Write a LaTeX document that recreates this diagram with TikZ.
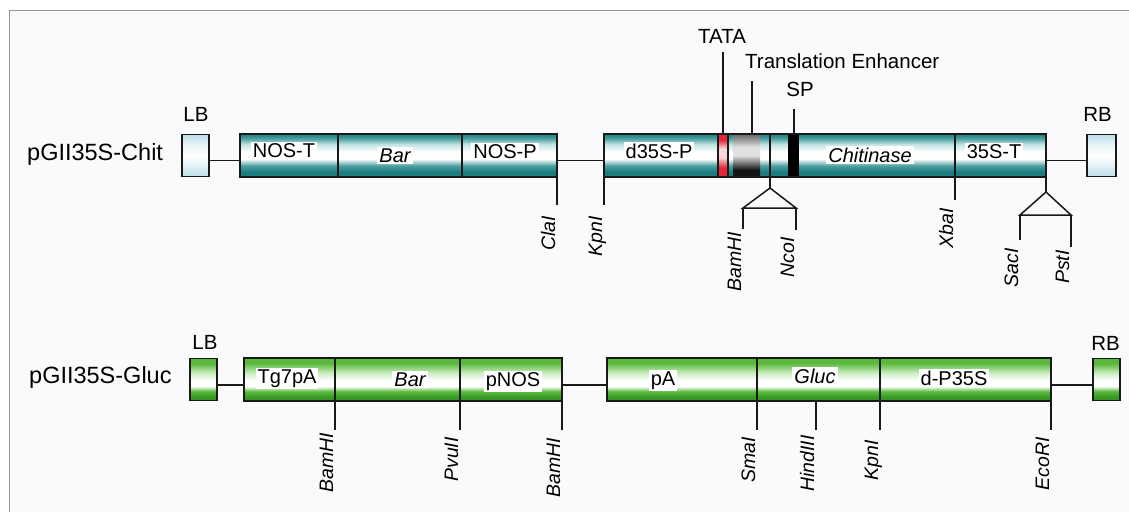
\documentclass[tikz,border=0pt]{standalone}
\usepackage{fontspec}
\setmainfont{Liberation Sans}
\definecolor{tealD}{RGB}{28,124,127}
\definecolor{tealM}{RGB}{75,158,160}
\definecolor{tealL}{RGB}{195,228,228}
\definecolor{grnD}{RGB}{55,150,35}
\definecolor{grnM}{RGB}{90,185,60}
\definecolor{grnL}{RGB}{200,236,190}
\definecolor{lbD}{RGB}{188,222,232}
\definecolor{lbL}{RGB}{232,244,248}
\definecolor{redD}{RGB}{226,40,55}
\definecolor{redL}{RGB}{250,215,218}
\definecolor{gryT}{RGB}{105,105,105}
\definecolor{gryL}{RGB}{225,225,225}
\definecolor{gryB}{RGB}{20,20,20}
\definecolor{bgc}{RGB}{250,250,252}
\definecolor{framec}{RGB}{150,150,150}
\definecolor{ink}{RGB}{25,25,25}
\pgfdeclareverticalshading{tealsh}{100bp}{color(0bp)=(tealD); color(25bp)=(tealD); color(31bp)=(tealD); color(38bp)=(tealM); color(46bp)=(white); color(54bp)=(white); color(63bp)=(tealL); color(70bp)=(tealM); color(75bp)=(tealD); color(100bp)=(tealD)}
\pgfdeclareverticalshading{grnsh}{100bp}{color(0bp)=(grnD); color(25bp)=(grnD); color(29bp)=(grnD); color(36bp)=(grnM); color(42bp)=(white); color(49bp)=(white); color(58bp)=(grnL); color(69bp)=(grnM); color(75bp)=(grnM); color(100bp)=(grnM)}
\pgfdeclareverticalshading{lbsh}{100bp}{color(0bp)=(lbD); color(25bp)=(lbD); color(40bp)=(lbL); color(50bp)=(white); color(62bp)=(lbL); color(75bp)=(lbD); color(100bp)=(lbD)}
\pgfdeclareverticalshading{redsh}{100bp}{color(0bp)=(redD); color(25bp)=(redD); color(36bp)=(redD); color(48bp)=(redL); color(58bp)=(redL); color(68bp)=(redD); color(75bp)=(redD); color(100bp)=(redD)}
\pgfdeclareverticalshading{grysh}{100bp}{color(0bp)=(gryB); color(25bp)=(gryB); color(33bp)=(gryB); color(50bp)=(gryL); color(60bp)=(gryL); color(75bp)=(gryT); color(100bp)=(gryT)}
\tikzset{
  lin/.style={draw=ink, line width=1.5pt},
  boxbase/.style={rectangle, inner sep=0pt, outer sep=0pt},
  tealbox/.style={boxbase, draw=ink, line width=1.5pt, shade, shading=tealsh},
  grnbox/.style={boxbase, draw=ink, line width=1.5pt, shade, shading=grnsh},
  lbbox/.style={boxbase, draw=ink, line width=1.5pt, shade, shading=lbsh},
  inlab/.style={fill=white, inner xsep=2pt, inner ysep=1.5pt, anchor=base, font=\fontsize{20}{24}\selectfont},
  sitelab/.style={rotate=90, inner sep=0pt, anchor=base east, font=\fontsize{19.5}{23}\selectfont\itshape},
  namelab/.style={inner sep=0pt, anchor=base west, font=\fontsize{23.5}{28}\selectfont},
  toplab/.style={inner sep=0pt, anchor=base, font=\fontsize{20.5}{24}\selectfont},
}
% #1 name, #2 x, #3 y start, #4 y end, #5 text top, #6 text
\newcommand{\siteline}[6]{%
  \coordinate (#1s) at (#2,#3);
  \coordinate (#1e) at (#2,#4);
  \draw[lin] (#1s) -- (#1e);
  \node[sitelab] (#1) at (#2-2,#5) {#6};
}
\begin{document}
\begin{tikzpicture}[x=1pt,y=-1pt]
\useasboundingbox (0,0) rectangle (1129,512);
\fill[white] (0,0) rectangle (1129,512);
\fill[bgc] (9.5,10.5) rectangle (1129,512);
\draw[framec, line width=1.2pt] (9.5,512) -- (9.5,10.5) -- (1129,10.5);

% ================= Row 1 : pGII35S-Chit =================
\node[namelab] (name1) at (27,160) {pGII35S-Chit};
\node[lbbox, minimum width=27pt, minimum height=42pt] (lb1) at (195.5,155.5) {};
\node[toplab] (lb1t) at (196,121) {LB};
\node[tealbox, minimum width=317pt, minimum height=43pt] (c1) at (398.5,155.5) {};
\node[tealbox, draw=none, minimum width=442pt, minimum height=43pt] (c2) at (825,155.5) {};
\node[lbbox, minimum width=29pt, minimum height=42pt] (rb1) at (1101.5,155.5) {};
\node[toplab] (rb1t) at (1097.5,121) {RB};

\draw[lin] ([yshift=-5pt]lb1.east) -- ([yshift=-5pt]c1.west);
\draw[lin] ([yshift=-5pt]c1.east) -- ([yshift=-5pt]c2.west);
\draw[lin] ([yshift=-5pt]c2.east) -- ([yshift=-5pt]rb1.west);

% dividers in c1
\draw[lin] (338,134) -- (338,177);
\draw[lin] (462,134) -- (462,177);

% elements in c2
\node[boxbase, draw=ink, line width=1.2pt, shade, shading=redsh, minimum width=10pt, minimum height=43pt] (tata) at (723,155.5) {};
\node[boxbase, shade, shading=grysh, minimum width=27pt, minimum height=42pt] (te) at (746.5,155.5) {};
\node[boxbase, fill=black, minimum width=11pt, minimum height=43pt] (sp) at (793.5,155.5) {};
\draw[lin] (c2.south west) rectangle (c2.north east);
\draw[lin] (955,134) -- (955,177);

% labels in boxes
\node[inlab] (l1) at (284,157) {NOS-T};
\node[inlab] (l2) at (395,162) {\itshape Bar};
\node[inlab] (l3) at (505,158) {NOS-P};
\node[inlab] (l4) at (659,158) {d35S-P};
\node[inlab] (l5) at (870,162) {\itshape Chitinase};
\node[inlab] (l6) at (994,158) {35S-T};

% upper labels
\node[toplab] (tatat) at (722,43) {TATA};
\coordinate (tataT) at (723,52);
\draw[lin] (tataT) -- (tata.north);
\node[toplab, anchor=base west] (tet) at (745,68) {Translation Enhancer};
\coordinate (teT) at (752,81);
\draw[lin] (teT) -- (teT |- te.north);
\node[toplab] (spt) at (800,96) {SP};
\coordinate (spT) at (794,109);
\draw[lin] (spT) -- (spT |- sp.north);

% restriction sites row 1
\siteline{cla}{557}{177}{205}{216}{ClaI}
\siteline{kpn}{604}{177}{205}{216}{KpnI}
\siteline{xba}{955}{177}{200}{208}{XbaI}
% BamHI / NcoI fork
\coordinate (f1top) at (770,134);
\coordinate (f1ap) at (770,188);
\coordinate (f1l) at (743,208);
\coordinate (f1r) at (796,208);
\draw[lin] (f1top) -- (f1ap);
\draw[lin, line join=miter] (f1l) -- (f1ap) -- (f1r) -- cycle;
\siteline{bam1}{743}{208}{229}{232}{BamHI}
\siteline{nco}{796}{208}{230}{237}{NcoI}
% SacI / PstI fork
\coordinate (f2top) at (1046,177);
\coordinate (f2ap) at (1046,192);
\coordinate (f2l) at (1020,215);
\coordinate (f2r) at (1071,215);
\draw[lin] (f2top) -- (f2ap);
\draw[lin, line join=miter] (f2l) -- (f2ap) -- (f2r) -- cycle;
\siteline{sac}{1020}{215}{240}{248}{SacI}
\siteline{pst}{1071}{215}{247}{250}{PstI}

% ================= Row 2 : pGII35S-Gluc =================
\node[namelab] (name2) at (29,383) {pGII35S-Gluc};
\node[grnbox, minimum width=27pt, minimum height=42pt] (lb2) at (203.5,379.5) {};
\node[toplab] (lb2t) at (205,349) {LB};
\node[grnbox, minimum width=318pt, minimum height=43pt] (g1) at (403,379.5) {};
\node[grnbox, minimum width=444pt, minimum height=43pt] (g2) at (829,379.5) {};
\node[grnbox, minimum width=27pt, minimum height=42pt] (rb2) at (1106.5,379.5) {};
\node[toplab] (rb2t) at (1105.5,350) {RB};

\draw[lin] ([yshift=-5.5pt]lb2.east) -- ([yshift=-5.5pt]g1.west);
\draw[lin] ([yshift=-5.5pt]g1.east) -- ([yshift=-5.5pt]g2.west);
\draw[lin] ([yshift=-5.5pt]g2.east) -- ([yshift=-5.5pt]rb2.west);

\draw[lin] (335,358) -- (335,401);
\draw[lin] (460,358) -- (460,401);
\draw[lin] (757,358) -- (757,401);
\draw[lin] (880,358) -- (880,401);

\node[inlab] (m1) at (287,383) {Tg7pA};
\node[inlab] (m2) at (410,386) {\itshape Bar};
\node[inlab] (m3) at (513,386) {pNOS};
\node[inlab] (m4) at (663,385) {pA};
\node[inlab] (m5) at (815,383) {\itshape Gluc};
\node[inlab] (m6) at (954,385) {d-P35S};

\siteline{bam2}{335}{401}{430}{433}{BamHI}
\siteline{pvu}{460}{401}{430}{437}{PvuII}
\siteline{bam3}{562}{401}{430}{438}{BamHI}
\siteline{sma}{757}{401}{430}{437}{SmaI}
\siteline{hind}{816}{401}{430}{435}{HindIII}
\siteline{kpn2}{880}{401}{430}{440}{KpnI}
\siteline{eco}{1051}{401}{430}{437}{EcoRI}
\end{tikzpicture}
\end{document}
